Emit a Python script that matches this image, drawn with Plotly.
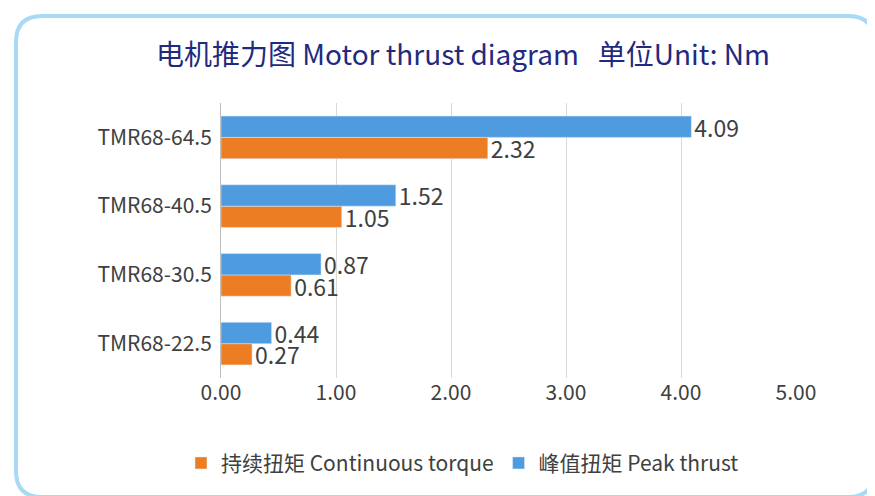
import plotly.graph_objects as go

models = ['TMR68-22.5', 'TMR68-30.5', 'TMR68-40.5', 'TMR68-64.5']
continuous = [0.27, 0.61, 1.05, 2.32]
peak = [0.44, 0.87, 1.52, 4.09]

W, H = 875, 496
L, R, T, B = 213, 87, 95, 126
pw, ph = W - L - R, H - T - B

def px(x):
    return (x - L) / pw

def py(y):
    return (H - B - y) / ph

fig = go.Figure()
fig.add_trace(go.Bar(y=models, x=continuous, orientation='h', name='持续扭矩 Continuous torque',
                     marker_color='#ed7d22', text=[f'{v:.2f}' for v in continuous],
                     textposition='outside', cliponaxis=False, constraintext='none',
                     textfont=dict(size=23, color='#404040')))
fig.add_trace(go.Bar(y=models, x=peak, orientation='h', name='峰值扭矩 Peak thrust',
                     marker_color='#4f9be0', text=[f'{v:.2f}' for v in peak],
                     textposition='outside', cliponaxis=False, constraintext='none',
                     textfont=dict(size=23, color='#404040')))

# rounded border
x0, x1, y0, y1, r = 8, 866, 8, 489, 26
path = (f"M {px(x0+r)},{py(y0)} L {px(x1-r)},{py(y0)} Q {px(x1)},{py(y0)} {px(x1)},{py(y0+r)} "
        f"L {px(x1)},{py(y1-r)} Q {px(x1)},{py(y1)} {px(x1-r)},{py(y1)} "
        f"L {px(x0+r)},{py(y1)} Q {px(x0)},{py(y1)} {px(x0)},{py(y1-r)} "
        f"L {px(x0)},{py(y0+r)} Q {px(x0)},{py(y0)} {px(x0+r)},{py(y0)} Z")

fig.update_layout(
    width=W, height=H, margin=dict(l=L, r=R, t=T, b=B, autoexpand=False),
    paper_bgcolor='white', plot_bgcolor='white',
    font=dict(family='Noto Sans CJK SC, Noto Sans', color='#404040'),
    barmode='group', bargap=0.38, bargroupgap=0,
    title=dict(text='电机推力图 Motor thrust diagram   单位Unit: Nm', x=0.52, xanchor='center',
               y=0.905, yanchor='middle', font=dict(size=28, color='#1f2a80')),
    xaxis=dict(range=[0, 5], dtick=1, tickformat='.2f', showgrid=True, gridcolor='#d9d9d9',
               zeroline=False, tickfont=dict(size=21, color='#404040'), ticklen=0, automargin=False),
    yaxis=dict(showline=True, linecolor='#bfbfbf', tickfont=dict(size=21, color='#404040'),
               ticks='outside', ticklen=4, tickcolor='white', automargin=False),
    legend=dict(orientation='h', x=0.42, xanchor='center', y=-0.31, yanchor='middle',
                traceorder='normal', font=dict(size=21, color='#404040')),
    showlegend=True,
    shapes=[dict(type='path', path=path, xref='paper', yref='paper',
                 line=dict(color='#a9d9f4', width=4))],
)

fig.write_html('out.html')
